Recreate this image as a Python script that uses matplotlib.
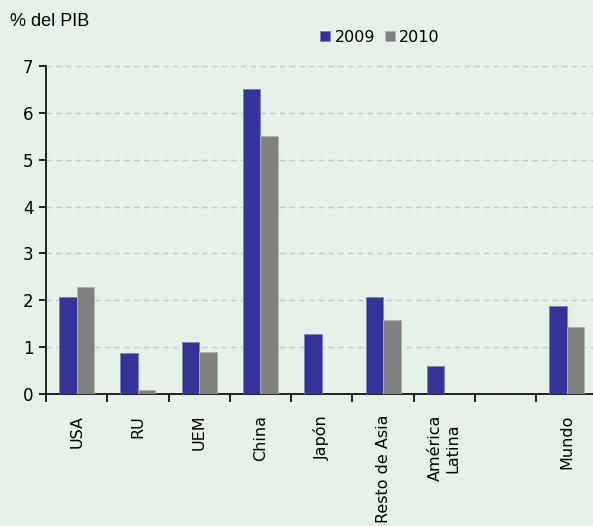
import numpy as np
import matplotlib
matplotlib.use("Agg")
import matplotlib.pyplot as plt

# data
categories = ["USA", "RU", "UEM", "China", "Japón", "Resto de Asia",
              "América\nLatina", "", "Mundo"]
values_2009 = [2.07, 0.87, 1.12, 6.5, 1.27, 2.07, 0.6, 0, 1.87]
values_2010 = [2.28, 0.08, 0.9, 5.5, 0, 1.57, 0, 0, 1.43]
yticks = [0, 1, 2, 3, 4, 5, 6, 7]

bg = "#e5f0e6"
blue = "#333399"
grey = "#808080"

fig = plt.figure(figsize=(5.93, 5.26), dpi=100, facecolor=bg)
ax = fig.add_axes([0.0776, 0.251, 0.93, 0.6235], facecolor=bg)

x = np.arange(len(categories))
w = 0.285
ax.bar(x - w / 2, values_2009, w, color=blue, edgecolor="#7f7fbf", linewidth=0.6,
       label="2009", zorder=3)
ax.bar(x + w / 2, values_2010, w, color=grey, edgecolor="#b0b0b0", linewidth=0.6,
       label="2010", zorder=3)

ax.set_xlim(-0.5, len(categories) - 0.5)
ax.set_ylim(0, 7)
ax.set_yticks(yticks)
ax.set_yticklabels([str(t) for t in yticks], fontsize=12)
ax.yaxis.grid(True, linestyle=(0, (4, 3)), color="#c8c8c8", linewidth=1)
ax.set_axisbelow(True)

# category labels centered, ticks at the boundaries
ax.set_xticks(x)
ax.set_xticklabels(categories, rotation=90, fontsize=11.5, va="top", ha="center",
                   multialignment="center")
ax.tick_params(axis="x", which="major", length=0, pad=15)
ax.set_xticks(np.arange(-0.5, len(categories), 1), minor=True)
ax.tick_params(axis="x", which="minor", length=6, width=1.2, direction="out")
ax.tick_params(axis="y", length=5, width=1.2, direction="out", pad=4)

for s in ["top", "right"]:
    ax.spines[s].set_visible(False)
ax.spines["left"].set_linewidth(1.2)
ax.spines["bottom"].set_linewidth(1.2)

fig.text(0.017, 0.96, "% del PIB", fontsize=13, family="Liberation Sans", va="center")

ax.legend(loc="center", bbox_to_anchor=(0.606, 1.088), ncol=2,
          frameon=False, fontsize=11.5, handlelength=0.6, handleheight=0.6,
          handletextpad=0.3, columnspacing=0.6)

fig.savefig("out.png", dpi=100, facecolor=bg)
